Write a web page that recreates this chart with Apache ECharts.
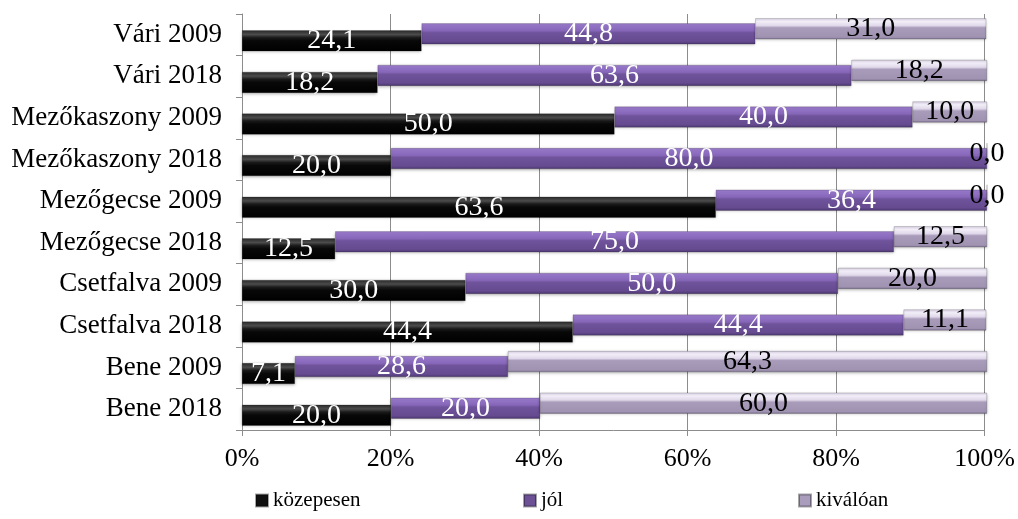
<!DOCTYPE html>
<html>
<head>
<meta charset="utf-8">
<script src="https://cdn.jsdelivr.net/npm/echarts@6/dist/echarts.min.js"></script>
<style>
  html, body { margin: 0; padding: 0; background: #fff; }
  #chart { width: 1018px; height: 519px; }
</style>
</head>
<body>
<div id="chart"></div>
<script>
// kategóriák felülről lefelé
const categories = ['Vári 2009', 'Vári 2018', 'Mezőkaszony 2009', 'Mezőkaszony 2018',
  'Mezőgecse 2009', 'Mezőgecse 2018', 'Csetfalva 2009', 'Csetfalva 2018', 'Bene 2009', 'Bene 2018']
const kozepesen = [24.1, 18.2, 50.0, 20.0, 63.6, 12.5, 30.0, 44.4, 7.1, 20.0]
const jol = [44.8, 63.6, 40.0, 80.0, 36.4, 75.0, 50.0, 44.4, 28.6, 20.0]
const kivaloan = [31.0, 18.2, 10.0, 0.0, 0.0, 12.5, 20.0, 11.1, 64.3, 60.0]
const seriesNames = ['közepesen', 'jól', 'kiválóan']
const xTicks = [0, 20, 40, 60, 80, 100]

const font = 'Liberation Serif'

// dombornyomott sáv színátmenet
function bevel(stops) {
  return new echarts.graphic.LinearGradient(0, 0, 0, 1,
    stops.map(([offset, color]) => ({ offset, color })))
}

const styles = [
  {
    fill: bevel([[0, '#2a2a2a'], [0.2, '#4c4c4c'], [0.35, '#1a1a1a'], [0.5, '#080808'], [1, '#000000']]),
    label: '#ffffff',
    icon: '#111111',
  },
  {
    fill: bevel([[0, '#9b7bcc'], [0.35, '#8566b8'], [0.45, '#6f539b'], [0.85, '#664b91'], [1, '#4e3872']]),
    label: '#ffffff',
    icon: '#6c5196',
  },
  {
    fill: bevel([[0, '#d8cfe4'], [0.15, '#f2eef8'], [0.35, '#e0d8ea'], [0.45, '#a99cba'], [0.9, '#a093b2'], [1, '#7f7391']]),
    label: '#000000',
    icon: '#aa9dbc',
  },
]

// 3D hatás: minden sorozat kicsit más magasságban
const shifts = [6, -1, -6]

function fmt(v) {
  return v.toFixed(1).replace('.', ',')
}

const chartDom = document.getElementById('chart')
const chart = echarts.init(chartDom)

const grids = [{ left: 242, right: 31, top: 14, bottom: 89 }]
shifts.forEach((s) => grids.push({ left: 242, right: 31, top: 14 + s, bottom: 89 - s }))

const xAxes = grids.map((g, i) => ({
  type: 'value',
  gridIndex: i,
  min: xTicks[0],
  max: xTicks[xTicks.length - 1],
  interval: 20,
  show: i === 0,
  axisLine: { show: true, lineStyle: { color: '#8c8c8c' } },
  axisTick: { show: true, length: 6, lineStyle: { color: '#8c8c8c' } },
  axisLabel: {
    formatter: '{value}%',
    fontFamily: font,
    fontSize: 26,
    color: '#000',
    margin: 16,
  },
  splitLine: { show: i === 0, lineStyle: { color: '#8c8c8c', width: 1 } },
}))

const yAxes = grids.map((g, i) => ({
  type: 'category',
  gridIndex: i,
  inverse: true,
  data: categories,
  show: i === 0,
  axisLine: { show: true, lineStyle: { color: '#8c8c8c' } },
  axisTick: { show: true, length: 6, lineStyle: { color: '#8c8c8c' } },
  axisLabel: {
    fontFamily: font,
    fontSize: 27,
    color: '#000',
    margin: 20,
  },
}))

const values = [kozepesen, jol, kivaloan]
const series = []
values.forEach((data, i) => {
  // átlátszó alap a saját rácsában, hogy a sáv a helyén kezdődjön
  for (let j = 0; j < i; j++) {
    series.push({
      type: 'bar',
      xAxisIndex: i + 1,
      yAxisIndex: i + 1,
      stack: 'g' + i,
      barWidth: 21,
      silent: true,
      data: values[j],
      itemStyle: { color: 'transparent' },
      z: 1,
    })
  }
  series.push({
    name: seriesNames[i],
    type: 'bar',
    xAxisIndex: i + 1,
    yAxisIndex: i + 1,
    stack: 'g' + i,
    barWidth: 21,
    data: data,
    z: 2 + i,
    itemStyle: {
      color: styles[i].fill,
      borderColor: 'rgba(0,0,0,0.35)',
      borderWidth: 0.5,
      shadowColor: 'rgba(0,0,0,0.3)',
      shadowBlur: 3,
      shadowOffsetY: 1,
    },
    label: {
      show: true,
      position: 'inside',
      formatter: (p) => fmt(p.value),
      fontFamily: font,
      fontSize: 28,
      color: styles[i].label,
    },
  })
})

chart.setOption({
  animation: false,
  textStyle: { fontFamily: font },
  grid: grids,
  legend: [0, 1, 2].map((i) => ({
    data: [{ name: seriesNames[i], itemStyle: { color: styles[i].icon } }],
    left: [250, 518, 793][i],
    top: 485,
    icon: 'rect',
    itemWidth: 12,
    itemHeight: 12,
    itemGap: 4,
    textStyle: { fontFamily: font, fontSize: 21, color: '#000' },
  })),
  xAxis: xAxes,
  yAxis: yAxes,
  series: series,
})
</script>
</body>
</html>
